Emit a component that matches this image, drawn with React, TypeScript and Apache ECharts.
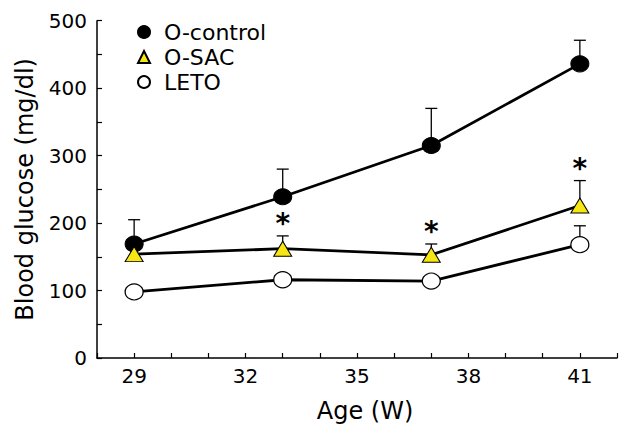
import React, { useEffect, useRef } from "react";
import * as echarts from "echarts";

const ages = [29, 33, 37, 41];
const xTickLabels = [29, 32, 35, 38, 41];
const controlMean = [169, 239, 315, 436];
const controlErr = [205, 280, 370, 471];
const sacMean = [154, 162, 153, 226];
const sacErr = [null, 181, 169, 263];
const letoMean = [98, 116, 114, 168];
const letoErr = [null, null, null, 196];
const starAges = [33, 37, 41];

const FONT = "DejaVu Sans";

function errData(means: number[], errs: (number | null)[]) {
  const out: number[][] = [];
  ages.forEach((a, i) => {
    const e = errs[i];
    if (e !== null) out.push([a, means[i], e]);
  });
  return out;
}

const errRender = (params: any, api: any) => {
  const x = api.value(0);
  const y = api.value(1);
  const t = api.value(2);
  const p0 = api.coord([x, y]);
  const p1 = api.coord([x, t]);
  const st = { stroke: "#000", lineWidth: 1.3 };
  return {
    type: "group",
    children: [
      { type: "line", shape: { x1: p0[0], y1: p0[1], x2: p1[0], y2: p1[1] }, style: st },
      { type: "line", shape: { x1: p1[0] - 6, y1: p1[1], x2: p1[0] + 6, y2: p1[1] }, style: st },
    ],
  };
};

export default function App() {
  const ref = useRef<HTMLDivElement>(null);
  useEffect(() => {
    if (!ref.current) return;
    const chart = echarts.init(ref.current, undefined, { renderer: "svg" });
    const starData = starAges.map((a) => {
      const i = ages.indexOf(a);
      return [a, sacErr[i] as number];
    });
    chart.setOption({
      animation: false,
      textStyle: { fontFamily: FONT },
      grid: { left: 97, right: 0, top: 20.7, bottom: 67.3, containLabel: false },
      legend: {
        orient: "vertical",
        left: 132,
        top: 14.5,
        itemWidth: 12,
        itemHeight: 12,
        itemGap: 0,
        selectedMode: false,
        textStyle: { fontSize: 22, color: "#000", fontFamily: FONT, lineHeight: 25, padding: [0, 0, 0, 9] },
        data: [
          { name: "O-control", icon: "circle" },
          { name: "O-SAC", icon: "triangle" },
          { name: "LETO", icon: "circle" },
        ],
      },
      xAxis: {
        type: "value",
        min: 28,
        max: 42,
        interval: 1,
        name: "Age (W)",
        nameLocation: "middle",
        nameGap: 41,
        nameTextStyle: { fontSize: 24, color: "#000", fontFamily: FONT, padding: [0, 0, 0, 16] },
        axisLine: { show: true, lineStyle: { color: "#000", width: 1.5 } },
        axisTick: { show: true, inside: true, length: 5, lineStyle: { color: "#000", width: 1.2 } },
        axisLabel: {
          fontSize: 20,
          color: "#000",
          margin: 8,
          fontFamily: FONT,
          formatter: (v: number) => (xTickLabels.indexOf(v) >= 0 ? String(v) : ""),
        },
        splitLine: { show: false },
      },
      yAxis: {
        type: "value",
        min: 0,
        max: 500,
        interval: 100,
        name: "Blood glucose (mg/dl)",
        nameLocation: "middle",
        nameGap: 60,
        nameTextStyle: { fontSize: 24, color: "#000", fontFamily: FONT },
        axisLine: { show: true, lineStyle: { color: "#000", width: 1.5 } },
        axisTick: { show: true, inside: true, length: 5, lineStyle: { color: "#000", width: 1.2 } },
        minorTick: { show: true, splitNumber: 2, length: 5, lineStyle: { color: "#000", width: 1.2 } },
        axisLabel: { fontSize: 20, color: "#000", margin: 10, fontFamily: FONT },
        splitLine: { show: false },
      },
      series: [
        { type: "custom", name: "errC", z: 1, renderItem: errRender, data: errData(controlMean, controlErr), encode: { x: 0, y: [1, 2] } },
        { type: "custom", name: "errS", z: 1, renderItem: errRender, data: errData(sacMean, sacErr), encode: { x: 0, y: [1, 2] } },
        { type: "custom", name: "errL", z: 1, renderItem: errRender, data: errData(letoMean, letoErr), encode: { x: 0, y: [1, 2] } },
        {
          type: "line",
          name: "O-control",
          z: 3,
          data: ages.map((a, i) => [a, controlMean[i]]),
          symbol: "circle",
          symbolSize: [18, 16],
          lineStyle: { color: "#000", width: 2.8 },
          itemStyle: { color: "#000", borderColor: "#000", borderWidth: 1 },
        },
        {
          type: "line",
          name: "O-SAC",
          z: 3,
          data: ages.map((a, i) => [a, sacMean[i]]),
          symbol: "triangle",
          symbolSize: [18, 15],
          lineStyle: { color: "#000", width: 2.8 },
          itemStyle: { color: "#f5e614", borderColor: "#000", borderWidth: 1 },
        },
        {
          type: "line",
          name: "LETO",
          z: 3,
          data: ages.map((a, i) => [a, letoMean[i]]),
          symbol: "circle",
          symbolSize: [18, 16],
          lineStyle: { color: "#000", width: 2.8 },
          itemStyle: { color: "#fff", borderColor: "#000", borderWidth: 1.2 },
        },
        {
          type: "scatter",
          name: "stars",
          z: 4,
          data: starData,
          symbolSize: 1,
          itemStyle: { color: "rgba(0,0,0,0)", opacity: 1 },
          label: {
            show: true,
            formatter: "*",
            position: "inside",
            offset: [0, -12],
            fontSize: 28,
            fontWeight: "bold",
            color: "#000",
            opacity: 1,
            textBorderWidth: 0,
            textBorderColor: "transparent",
            fontFamily: FONT,
          },
        },
      ],
    });
    return () => chart.dispose();
  }, []);
  return <div ref={ref} style={{ position: "absolute", left: 0, top: 0, width: 620, height: 428 }} />;
}
